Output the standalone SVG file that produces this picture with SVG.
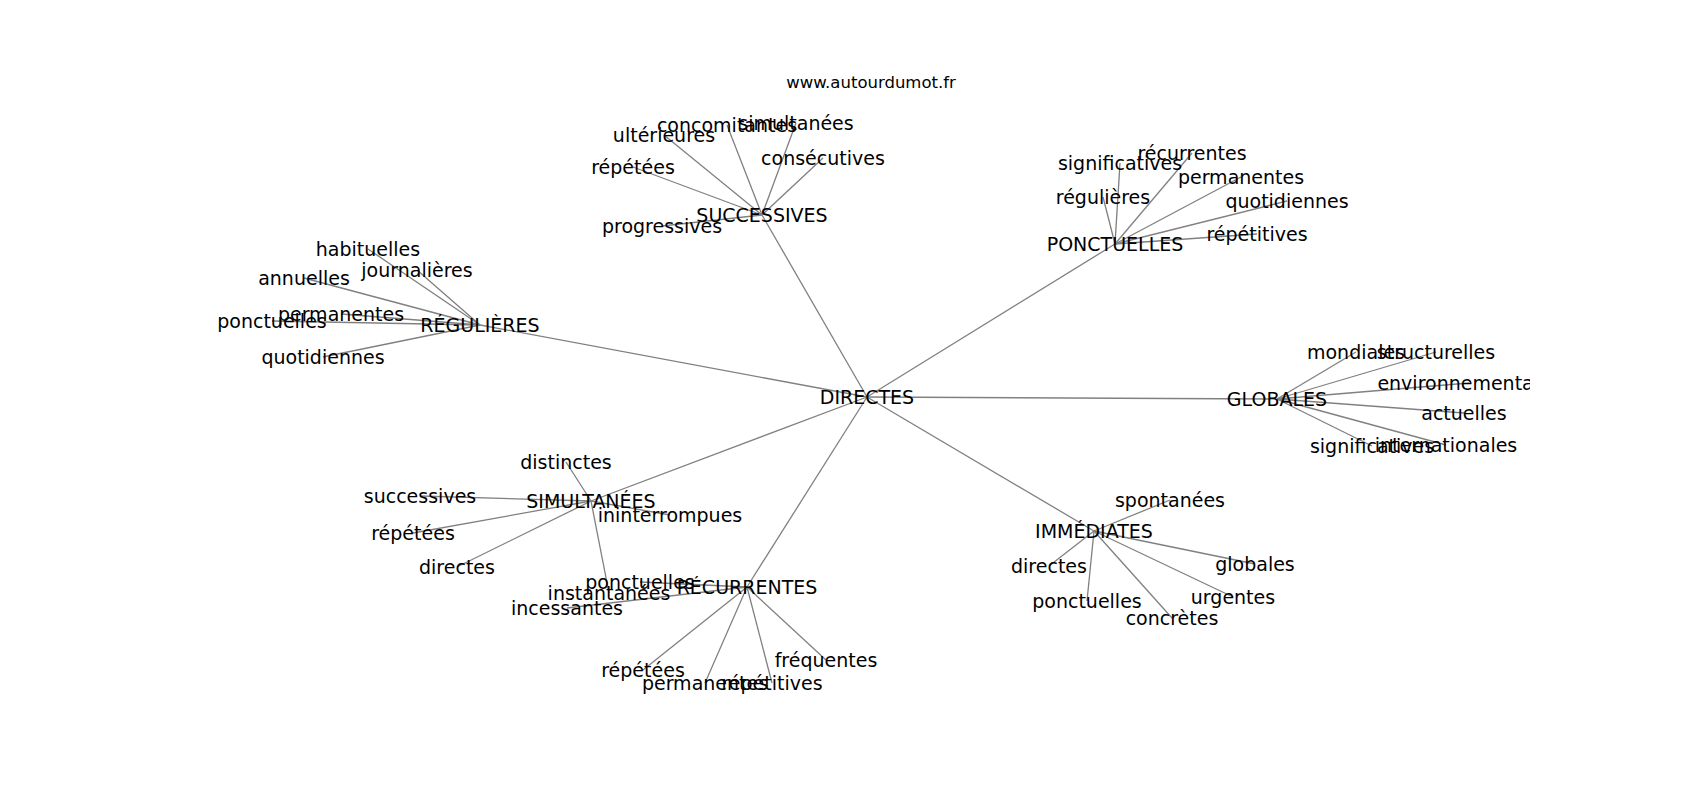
<svg xmlns="http://www.w3.org/2000/svg" width="1700" height="800" viewBox="0 0 1700 800">
<style>
.e{stroke:#808080;stroke-width:1.3;fill:none}
.n{font-family:"DejaVu Sans","Liberation Sans",sans-serif;font-size:19px;text-anchor:middle;dominant-baseline:central;fill:#000}
.t{font-family:"DejaVu Sans","Liberation Sans",sans-serif;font-size:16.5px;text-anchor:middle;fill:#000}
</style>
<defs><clipPath id="ax"><rect x="212.5" y="96" width="1317.5" height="608"/></clipPath></defs>
<rect width="1700" height="800" fill="#fff"/>
<text class="t" x="871" y="88">www.autourdumot.fr</text>
<g id="edges" class="e" clip-path="url(#ax)">
<line x1="867" y1="397" x2="762" y2="215"/>
<line x1="867" y1="397" x2="1115" y2="244"/>
<line x1="867" y1="397" x2="480" y2="325"/>
<line x1="867" y1="397" x2="1277" y2="399"/>
<line x1="867" y1="397" x2="591" y2="501"/>
<line x1="867" y1="397" x2="747" y2="587"/>
<line x1="867" y1="397" x2="1094" y2="531"/>
<line x1="762" y1="215" x2="664" y2="135"/>
<line x1="762" y1="215" x2="727" y2="125"/>
<line x1="762" y1="215" x2="796" y2="123"/>
<line x1="762" y1="215" x2="823" y2="158"/>
<line x1="762" y1="215" x2="633" y2="167"/>
<line x1="762" y1="215" x2="662" y2="226"/>
<line x1="1115" y1="244" x2="1120" y2="163"/>
<line x1="1115" y1="244" x2="1192" y2="153"/>
<line x1="1115" y1="244" x2="1103" y2="197"/>
<line x1="1115" y1="244" x2="1241" y2="177"/>
<line x1="1115" y1="244" x2="1287" y2="201"/>
<line x1="1115" y1="244" x2="1257" y2="234"/>
<line x1="480" y1="325" x2="368" y2="249"/>
<line x1="480" y1="325" x2="417" y2="270"/>
<line x1="480" y1="325" x2="304" y2="278"/>
<line x1="480" y1="325" x2="341" y2="314"/>
<line x1="480" y1="325" x2="272" y2="321"/>
<line x1="480" y1="325" x2="323" y2="357"/>
<line x1="1277" y1="399" x2="1356" y2="352"/>
<line x1="1277" y1="399" x2="1436" y2="352"/>
<line x1="1277" y1="399" x2="1469" y2="383"/>
<line x1="1277" y1="399" x2="1464" y2="413"/>
<line x1="1277" y1="399" x2="1446" y2="445"/>
<line x1="1277" y1="399" x2="1372" y2="446"/>
<line x1="591" y1="501" x2="566" y2="462"/>
<line x1="591" y1="501" x2="420" y2="496"/>
<line x1="591" y1="501" x2="413" y2="533"/>
<line x1="591" y1="501" x2="457" y2="567"/>
<line x1="591" y1="501" x2="670" y2="515"/>
<line x1="591" y1="501" x2="609" y2="593"/>
<line x1="747" y1="587" x2="640" y2="582"/>
<line x1="747" y1="587" x2="567" y2="608"/>
<line x1="747" y1="587" x2="643" y2="670"/>
<line x1="747" y1="587" x2="705" y2="683"/>
<line x1="747" y1="587" x2="772" y2="683"/>
<line x1="747" y1="587" x2="826" y2="660"/>
<line x1="1094" y1="531" x2="1170" y2="500"/>
<line x1="1094" y1="531" x2="1049" y2="566"/>
<line x1="1094" y1="531" x2="1087" y2="601"/>
<line x1="1094" y1="531" x2="1172" y2="618"/>
<line x1="1094" y1="531" x2="1233" y2="597"/>
<line x1="1094" y1="531" x2="1255" y2="564"/>
</g>
<g id="labels" class="n" clip-path="url(#ax)">
<g id="n-directes"><text x="867" y="397">DIRECTES</text></g>
<g id="n-successives"><text x="762" y="215">SUCCESSIVES</text></g>
<g id="n-ponctuelles"><text x="1115" y="244">PONCTUELLES</text></g>
<g id="n-regulieres"><text x="480" y="325">RÉGULIÈRES</text></g>
<g id="n-globales"><text x="1277" y="399">GLOBALES</text></g>
<g id="n-simultanees"><text x="591" y="501">SIMULTANÉES</text></g>
<g id="n-recurrentes"><text x="747" y="587">RÉCURRENTES</text></g>
<g id="n-immediates"><text x="1094" y="531">IMMÉDIATES</text></g>
<g id="s-ulterieures"><text x="664" y="135">ultérieures</text></g>
<g id="s-concomitantes"><text x="727" y="125">concomitantes</text></g>
<g id="s-simultanees"><text x="796" y="123">simultanées</text></g>
<g id="s-consecutives"><text x="823" y="158">consécutives</text></g>
<g id="s-repetees"><text x="633" y="167">répétées</text></g>
<g id="s-progressives"><text x="662" y="226">progressives</text></g>
<g id="p-significatives"><text x="1120" y="163">significatives</text></g>
<g id="p-recurrentes"><text x="1192" y="153">récurrentes</text></g>
<g id="p-regulieres"><text x="1103" y="197">régulières</text></g>
<g id="p-permanentes"><text x="1241" y="177">permanentes</text></g>
<g id="p-quotidiennes"><text x="1287" y="201">quotidiennes</text></g>
<g id="p-repetitives"><text x="1257" y="234">répétitives</text></g>
<g id="r-habituelles"><text x="368" y="249">habituelles</text></g>
<g id="r-journalieres"><text x="417" y="270">journalières</text></g>
<g id="r-annuelles"><text x="304" y="278">annuelles</text></g>
<g id="r-permanentes"><text x="341" y="314">permanentes</text></g>
<g id="r-ponctuelles"><text x="272" y="321">ponctuelles</text></g>
<g id="r-quotidiennes"><text x="323" y="357">quotidiennes</text></g>
<g id="g-mondiales"><text x="1356" y="352">mondiales</text></g>
<g id="g-structurelles"><text x="1436" y="352">structurelles</text></g>
<g id="g-environnementales"><text x="1469" y="383">environnementales</text></g>
<g id="g-actuelles"><text x="1464" y="413">actuelles</text></g>
<g id="g-internationales"><text x="1446" y="445">internationales</text></g>
<g id="g-significatives"><text x="1372" y="446">significatives</text></g>
<g id="m-distinctes"><text x="566" y="462">distinctes</text></g>
<g id="m-successives"><text x="420" y="496">successives</text></g>
<g id="m-repetees"><text x="413" y="533">répétées</text></g>
<g id="m-directes"><text x="457" y="567">directes</text></g>
<g id="m-ininterrompues"><text x="670" y="515">ininterrompues</text></g>
<g id="m-instantanees"><text x="609" y="593">instantanées</text></g>
<g id="c-ponctuelles"><text x="640" y="582">ponctuelles</text></g>
<g id="c-incessantes"><text x="567" y="608">incessantes</text></g>
<g id="c-repetees"><text x="643" y="670">répétées</text></g>
<g id="c-permanentes"><text x="705" y="683">permanentes</text></g>
<g id="c-repetitives"><text x="772" y="683">répétitives</text></g>
<g id="c-frequentes"><text x="826" y="660">fréquentes</text></g>
<g id="i-spontanees"><text x="1170" y="500">spontanées</text></g>
<g id="i-directes"><text x="1049" y="566">directes</text></g>
<g id="i-ponctuelles"><text x="1087" y="601">ponctuelles</text></g>
<g id="i-concretes"><text x="1172" y="618">concrètes</text></g>
<g id="i-urgentes"><text x="1233" y="597">urgentes</text></g>
<g id="i-globales"><text x="1255" y="564">globales</text></g>
</g>
</svg>
